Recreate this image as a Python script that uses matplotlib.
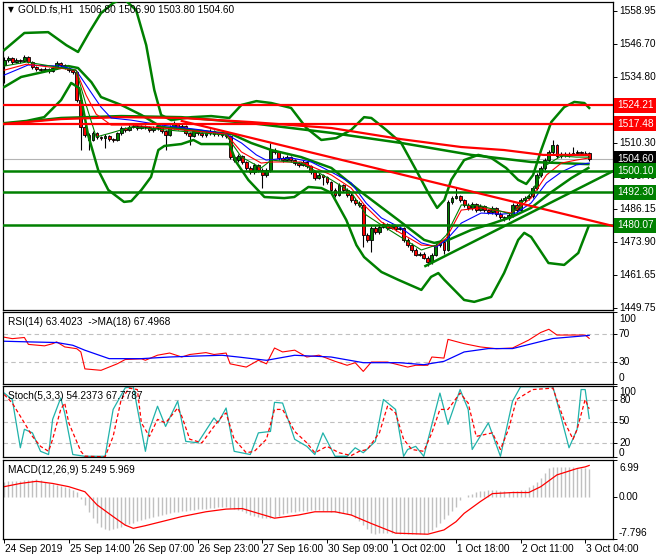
import matplotlib
matplotlib.use("Agg")
import matplotlib.pyplot as plt
import numpy as np

plt.rcParams['font.family'] = ['Liberation Sans', 'DejaVu Sans']

title = "GOLD.fs,H1  1506.80 1506.90 1503.80 1504.60"

# H1 candles, bar 0 = 24 Sep 2019
opens = [1539.0, 1540.9, 1541.7, 1540.2, 1540.9, 1540.6, 1542.0, 1540.2, 1538.3, 1537.6,
         1537.2, 1537.6, 1536.9, 1538.0, 1539.8, 1539.1, 1538.0, 1537.2, 1536.5, 1526.2,
         1516.3, 1513.3, 1511.5, 1514.1, 1512.6, 1512.2, 1513.0, 1511.8, 1511.5, 1514.1,
         1515.9, 1515.2, 1516.3, 1516.6, 1515.9, 1516.6, 1516.3, 1515.2, 1515.9, 1516.6,
         1514.8, 1513.3, 1516.3, 1517.4, 1515.9, 1516.6, 1514.1, 1513.0, 1514.8, 1514.1,
         1513.3, 1514.1, 1514.8, 1513.7, 1514.1, 1513.3, 1513.0, 1505.2, 1504.1, 1505.6,
         1503.4, 1501.2, 1499.7, 1502.3, 1500.4, 1498.6, 1500.4, 1507.8, 1507.1, 1504.9,
         1504.1, 1505.2, 1504.1, 1503.0, 1502.3, 1503.4, 1501.9, 1499.7, 1497.5, 1498.6,
         1497.9, 1496.0, 1493.1, 1491.2, 1494.9, 1493.1, 1491.2, 1489.4, 1488.3, 1487.6,
         1476.5, 1474.7, 1479.1, 1477.6, 1479.5, 1480.6, 1479.1, 1479.8, 1478.7, 1479.1,
         1474.7, 1472.8, 1471.0, 1469.2, 1469.5, 1468.1, 1466.6, 1469.2, 1472.8, 1473.9,
         1471.0, 1488.7, 1490.1, 1490.9, 1489.4, 1487.6, 1486.5, 1487.9, 1485.7, 1487.2,
         1485.7, 1485.0, 1486.5, 1484.2, 1483.1, 1482.8, 1483.9, 1487.6, 1485.7, 1489.4,
         1490.1, 1490.9, 1493.8, 1498.6, 1501.2, 1504.1, 1507.1, 1509.6, 1505.6, 1506.3,
         1506.0, 1506.3, 1506.7, 1507.1, 1506.7, 1506.8]
highs = [1541.9, 1542.3, 1542.2, 1541.5, 1541.4, 1542.8, 1542.3, 1540.6, 1538.8, 1538.1,
         1538.3, 1538.0, 1538.6, 1540.4, 1540.3, 1539.6, 1538.5, 1537.6, 1537.0, 1526.8,
         1516.9, 1514.0, 1514.8, 1514.6, 1513.1, 1513.8, 1513.5, 1512.4, 1514.6, 1516.5,
         1516.4, 1516.9, 1517.3, 1517.0, 1517.1, 1517.0, 1516.7, 1516.5, 1517.2, 1517.0,
         1515.1, 1517.0, 1518.6, 1517.9, 1517.2, 1516.9, 1514.6, 1515.4, 1515.3, 1514.6,
         1514.7, 1515.5, 1515.2, 1514.6, 1514.7, 1513.9, 1513.5, 1505.8, 1506.2, 1505.9,
         1503.9, 1501.8, 1502.9, 1502.8, 1501.0, 1501.0, 1510.4, 1508.6, 1507.6, 1505.6,
         1505.8, 1505.7, 1504.6, 1503.5, 1504.0, 1503.9, 1502.4, 1500.2, 1499.3, 1499.1,
         1498.4, 1496.5, 1493.7, 1495.5, 1495.4, 1493.7, 1491.8, 1490.0, 1489.0, 1487.9,
         1477.2, 1479.9, 1479.8, 1480.1, 1481.4, 1481.0, 1480.4, 1480.3, 1479.8, 1479.6,
         1475.3, 1473.4, 1471.6, 1470.3, 1470.1, 1468.6, 1469.8, 1473.4, 1474.6, 1474.5,
         1489.3, 1490.8, 1493.8, 1491.3, 1489.9, 1488.3, 1488.6, 1488.4, 1487.8, 1487.6,
         1486.2, 1487.1, 1487.0, 1484.8, 1483.6, 1484.6, 1488.2, 1488.3, 1490.0, 1490.9,
         1491.5, 1494.5, 1499.2, 1501.9, 1504.8, 1507.8, 1511.5, 1510.0, 1507.0, 1506.9,
         1506.9, 1508.9, 1507.7, 1507.6, 1507.5, 1506.9]
lows = [1532.5, 1540.3, 1539.6, 1539.8, 1540.0, 1540.1, 1539.7, 1537.8, 1537.0, 1536.6,
        1536.8, 1536.3, 1536.4, 1537.5, 1538.5, 1537.5, 1536.6, 1535.8, 1525.5, 1507.8,
        1512.6, 1507.8, 1511.0, 1512.0, 1511.6, 1508.5, 1511.2, 1510.8, 1511.0, 1513.5,
        1514.6, 1514.7, 1515.8, 1515.3, 1515.4, 1515.6, 1514.6, 1514.5, 1515.3, 1514.2,
        1507.8, 1512.8, 1515.7, 1515.3, 1515.4, 1513.5, 1509.6, 1512.5, 1513.4, 1512.6,
        1512.7, 1513.5, 1513.1, 1513.0, 1512.7, 1512.4, 1504.6, 1503.5, 1503.5, 1502.8,
        1500.6, 1498.9, 1499.1, 1499.8, 1493.8, 1498.0, 1499.8, 1506.4, 1504.3, 1503.5,
        1503.6, 1503.5, 1502.4, 1501.6, 1501.8, 1501.3, 1499.0, 1496.8, 1497.0, 1495.0,
        1495.4, 1492.4, 1490.6, 1490.8, 1492.5, 1490.6, 1488.8, 1487.7, 1486.9, 1472.1,
        1474.0, 1470.3, 1477.0, 1477.0, 1479.0, 1478.5, 1478.6, 1478.1, 1478.2, 1474.1,
        1472.2, 1470.4, 1468.6, 1468.6, 1467.5, 1465.1, 1466.0, 1468.6, 1472.2, 1469.5,
        1470.5, 1488.1, 1489.6, 1488.8, 1487.0, 1485.9, 1485.9, 1485.1, 1485.2, 1485.1,
        1484.4, 1484.4, 1483.6, 1482.5, 1481.8, 1482.2, 1483.3, 1485.1, 1485.1, 1488.8,
        1489.4, 1490.3, 1493.2, 1498.0, 1500.6, 1503.5, 1506.5, 1505.0, 1505.0, 1505.4,
        1505.4, 1505.8, 1506.2, 1505.8, 1505.9, 1503.8]
closes = [1540.9, 1541.7, 1540.2, 1540.9, 1540.6, 1542.0, 1540.2, 1538.3, 1537.6, 1537.2,
          1537.6, 1536.9, 1538.0, 1539.8, 1539.1, 1538.0, 1537.2, 1536.5, 1526.2, 1516.3,
          1513.3, 1511.5, 1514.1, 1512.6, 1512.2, 1513.0, 1511.8, 1511.5, 1514.1, 1515.9,
          1515.2, 1516.3, 1516.6, 1515.9, 1516.6, 1516.3, 1515.2, 1515.9, 1516.6, 1514.8,
          1513.3, 1516.3, 1517.4, 1515.9, 1516.6, 1514.1, 1513.0, 1514.8, 1514.1, 1513.3,
          1514.1, 1514.8, 1513.7, 1514.1, 1513.3, 1513.0, 1505.2, 1504.1, 1505.6, 1503.4,
          1501.2, 1499.7, 1502.3, 1500.4, 1498.6, 1500.4, 1507.8, 1507.1, 1504.9, 1504.1,
          1505.2, 1504.1, 1503.0, 1502.3, 1503.4, 1501.9, 1499.7, 1497.5, 1498.6, 1497.9,
          1496.0, 1493.1, 1491.2, 1494.9, 1493.1, 1491.2, 1489.4, 1488.3, 1487.6, 1476.5,
          1474.7, 1479.1, 1477.6, 1479.5, 1480.6, 1479.1, 1479.8, 1478.7, 1479.1, 1474.7,
          1472.8, 1471.0, 1469.2, 1469.5, 1468.1, 1466.6, 1469.2, 1472.8, 1473.9, 1471.0,
          1488.7, 1490.1, 1490.9, 1489.4, 1487.6, 1486.5, 1487.9, 1485.7, 1487.2, 1485.7,
          1485.0, 1486.5, 1484.2, 1483.1, 1482.8, 1483.9, 1487.6, 1485.7, 1489.4, 1490.1,
          1490.9, 1493.8, 1498.6, 1501.2, 1504.1, 1507.1, 1509.6, 1505.6, 1506.3, 1506.0,
          1506.3, 1506.7, 1507.1, 1506.7, 1506.8, 1504.6]

date_pos = [0, 16, 32, 48, 64, 80, 96, 112, 128, 144]
date_labels = ["24 Sep 2019", "25 Sep 14:00", "26 Sep 07:00", "26 Sep 23:00",
               "27 Sep 16:00", "30 Sep 09:00", "1 Oct 02:00", "1 Oct 18:00",
               "2 Oct 11:00", "3 Oct 04:00"]
price_ticks = [1558.95, 1546.70, 1534.80, 1522.55, 1510.30,
               1498.40, 1486.15, 1473.90, 1461.65, 1449.75]

last_price = 1504.60
red_levels = [1524.21, 1517.48]
green_levels = [1500.10, 1492.30, 1480.07]
red_trend_x = [44, 151.0]
red_trend_y = [1518.5, 1479.8]
green_trend_x = [104.4, 151.0]
green_trend_y = [1465.1, 1500.1]

# bollinger bands
bb_up_x = [0, 5.0, 10.9, 15.4, 18.3, 21.1, 24.0, 27.0, 29.5, 32.7, 35.2, 37.2, 38.9, 41.4,
           46.4, 51.3, 55.8, 58.8, 62.5, 66.2, 71.1, 74.9, 78.6, 82.3, 86.0, 89.2, 91.0,
           94.7, 98.4, 102.1, 105.4, 107.3, 109.1, 110.8, 114.0, 117.5, 120.7, 124.4,
           127.4, 129.4, 131.1, 133.1, 135.6, 138.8, 141.3, 143.8, 145.0]
bb_up_y = [1544.6, 1550.9, 1551.2, 1546.4, 1543.9, 1551.2, 1558.2, 1561.9, 1563.7, 1559.3,
           1546.4, 1529.9, 1520.7, 1518.8, 1519.9, 1520.3, 1519.6, 1524.4, 1525.8, 1525.1,
           1523.3, 1515.9, 1511.5, 1512.2, 1515.2, 1519.9, 1519.6, 1515.2, 1510.4, 1500.4,
           1491.2, 1486.5, 1489.4, 1496.8, 1504.1, 1506.0, 1504.9, 1501.2, 1496.8, 1495.3,
           1498.6, 1507.8, 1518.1, 1523.6, 1525.5, 1525.1, 1523.3]
bb_mid_x = [0, 4.2, 11.7, 15.9, 18.3, 21.6, 24.0, 29.0, 34.0, 38.9, 48.8, 56.3, 61.2, 66.2,
            73.6, 81.1, 88.5, 97.7, 104.1, 106.6, 110.1, 115.8, 120.7, 125.7, 130.6, 135.6,
            140.6, 144.8]
bb_mid_y = [1531.0, 1534.7, 1537.2, 1538.7, 1538.0, 1532.8, 1527.3, 1524.4, 1520.7, 1516.3,
            1514.8, 1513.7, 1510.4, 1507.8, 1505.2, 1501.2, 1492.3, 1482.0, 1474.7, 1473.6,
            1474.7, 1478.4, 1480.6, 1483.1, 1486.5, 1492.3, 1497.5, 1501.2]
bb_lo_x = [0, 5.5, 9.9, 14.1, 16.6, 18.6, 20.8, 23.3, 25.8, 29.7, 31.5, 34.0, 36.4, 38.2,
           39.7, 43.9, 46.9, 48.8, 55.8, 57.5, 60.5, 64.5, 69.4, 71.9, 75.4, 78.6, 81.1,
           84.8, 87.3, 89.2, 93.5, 97.7, 103.4, 105.8, 107.6, 109.1, 114.0, 116.5, 120.7,
           123.9, 127.4, 128.9, 130.6, 134.9, 138.8, 142.3, 144.8]
bb_lo_y = [1517.7, 1518.5, 1519.9, 1526.2, 1532.5, 1530.6, 1513.3, 1500.4, 1493.1, 1488.7,
           1489.0, 1493.1, 1497.9, 1507.8, 1509.3, 1510.0, 1511.5, 1510.0, 1510.0, 1503.4,
           1496.8, 1490.5, 1490.1, 1490.5, 1494.2, 1493.8, 1492.0, 1482.0, 1472.8, 1468.4,
           1462.9, 1460.0, 1456.3, 1461.1, 1462.5, 1460.0, 1452.6, 1451.9, 1453.7, 1462.5,
           1474.7, 1477.3, 1475.8, 1466.2, 1465.5, 1469.9, 1479.5]

# slow moving averages
slow_x = [0, 14.1, 29.0, 43.9, 61.2, 81.1, 98.4, 115.8, 130.6, 144.8]
slow_green_y = [1517.4, 1519.6, 1520.3, 1519.9, 1517.7, 1514.1, 1510.4, 1506.0, 1503.4, 1502.6]
slow_red_x = [0, 14.1, 29.0, 43.9, 61.2, 81.1, 98.4, 113.3, 123.9, 133.6, 144.8]
slow_red_y = [1517.4, 1519.2, 1519.9, 1519.6, 1518.1, 1515.9, 1511.8, 1508.9, 1507.8, 1506.0, 1506.0]

# fast moving averages
ma_blue_x = [0, 4.2, 5.9, 14.1, 17.8, 20.3, 24.0, 26.5, 31.5, 38.9, 48.8, 55.0, 58.8, 62.5,
             64.9, 71.1, 76.1, 81.1, 86.0, 89.7, 93.5, 98.4, 103.4, 107.1, 109.6, 113.3,
             118.2, 123.2, 126.9, 130.6, 134.4, 138.1, 141.8, 145.0]
ma_blue_y = [1535.4, 1538.0, 1539.1, 1538.7, 1537.2, 1531.7, 1523.6, 1519.6, 1518.8, 1517.0,
             1515.2, 1513.7, 1510.4, 1506.0, 1504.1, 1504.9, 1503.4, 1499.7, 1495.7, 1488.3,
             1482.8, 1479.1, 1473.6, 1472.1, 1474.7, 1480.9, 1484.6, 1484.2, 1484.6, 1488.3,
             1495.7, 1499.7, 1502.3, 1503.0]
ma_fast_x = [0, 5.5, 17.8, 20.3, 22.8, 26.5, 31.5, 55.0, 58.8, 63.7, 66.2, 73.6, 81.1, 86.0,
             89.7, 93.5, 103.4, 107.1, 109.6, 113.3, 118.2, 125.7, 130.6, 134.4, 138.1,
             141.8, 145.0]
ma_red_y = [1537.2, 1539.4, 1537.2, 1528.0, 1521.0, 1517.0, 1517.0, 1513.7, 1507.1, 1503.0,
            1503.4, 1503.4, 1498.6, 1493.8, 1486.8, 1481.3, 1472.8, 1472.5, 1475.4, 1485.7,
            1486.5, 1484.6, 1490.1, 1498.6, 1503.0, 1504.1, 1504.9]
ma_green_y = [1538.7, 1540.2, 1537.2, 1524.4, 1512.6, 1514.1, 1516.3, 1513.3, 1505.2, 1501.2,
              1504.1, 1503.0, 1496.8, 1492.3, 1483.9, 1480.2, 1471.0, 1472.8, 1476.5, 1487.6,
              1487.2, 1484.2, 1492.0, 1502.3, 1505.6, 1505.2, 1505.2]

# RSI(14) and its MA(18)
rsi_x = [0, 2, 5, 6, 10, 12, 13, 15, 18, 19, 20, 24, 28, 30, 34, 35, 38, 41, 44, 46,
         50, 52, 55, 56, 60, 63, 65, 67, 69, 72, 75, 78, 82, 85, 87, 89, 91, 95, 100, 102,
         105, 106, 109, 110, 114, 118, 122, 126, 130, 133, 135, 137, 144, 145]
rsi_y = [65, 63, 64.6, 55, 53, 56, 58.5, 51.5, 49, 44.5, 21, 19, 28, 34, 35, 33, 40, 43, 37.5, 41,
         43.6, 41, 43, 28, 23.5, 33, 28, 50, 44.5, 47, 37.5, 40, 31.5, 26, 29.6, 17.5, 30.5, 30.5, 23.5, 26,
         26, 37.5, 36, 62, 56, 51.5, 49, 50, 61, 71.6, 76, 68, 68, 63.4]
rsi_ma_x = [0, 6, 13, 17, 20, 26, 34, 41, 48, 54, 58, 65, 72, 81, 89, 98, 104, 109, 114,
            120, 126, 131, 136, 145]
rsi_ma_y = [59.4, 58.5, 57.6, 53.8, 46.9, 35.2, 35.2, 37.5, 38.9, 39.9, 37.5, 32.9, 39.9, 37.5,
            29.6, 29.6, 26.8, 31.5, 44.5, 49.2, 49.2, 56.2, 63.2, 67.5]

# Stochastic(5,3,3)
st_x = [0, 2, 4, 5, 7, 9, 11, 12, 14, 15, 17, 20, 25, 27, 30, 32, 35, 36, 38, 40,
        43, 45, 48, 52, 53, 55, 57, 61, 63, 66, 67, 69, 72, 75, 77, 79, 82, 85, 87, 89,
        92, 94, 97, 99, 100, 102, 104, 108, 110, 113, 115, 116, 120, 123, 126, 128, 136, 138,
        140, 142, 143, 144, 145]
st_y = [90, 81, 13, 39, 34, 8, 3.5, 53, 83, 62, 3.5, 1, 1, 67, 97.5, 99, 8, 39, 71.5, 43,
        78.6, 22, 20, 55, 48, 69, 8, 3.5, 34, 36, 77, 76, 25, 15, 3.5, 34, 1, 1, 13, 6,
        22, 81, 67, 1, 10.6, 15, 1, 90, 46, 95, 67, 10.6, 48, 1, 78.6, 99, 99, 57,
        13, 39, 95, 95, 54.2]
sg_x = [0, 2, 5, 7, 9, 11, 12, 14, 15, 16, 19, 20, 25, 27, 29, 31, 33, 34, 36, 38,
        40, 43, 44, 46, 49, 52, 54, 55, 57, 60, 62, 65, 67, 69, 72, 75, 77, 80, 83, 86,
        88, 90, 93, 95, 97, 99, 101, 104, 106, 108, 110, 113, 115, 117, 121, 123, 125, 127,
        131, 136, 139, 141, 142, 144, 145]
sg_y = [88, 76, 48, 29, 15, 8, 25, 67, 76, 48, 8, 1.2, 0.2, 29, 81, 97, 95, 48, 29, 53,
        48, 69, 57.5, 25, 20, 43, 57.5, 62, 25, 6, 8, 25, 67, 67, 36, 20, 6, 15, 6, 2,
        8, 10.6, 34, 71.5, 62, 25, 10.6, 8, 34, 67, 67, 90, 76, 29, 34, 10.6, 39, 81,
        95, 97, 48, 25, 39, 81, 67.8]

# MACD(12,26,9): main as histogram (one per bar), signal as line
macd_hist = [2.9, 3.0, 3.0, 3.1, 3.1, 3.2, 3.2, 3.3, 3.4, 3.2,
             2.9, 2.7, 2.5, 2.3, 2.1, 1.9, 1.7, 1.4, 1.0, -0.4,
             -1.4, -2.7, -3.9, -4.8, -5.5, -5.9, -6.1, -6.0, -5.8, -5.5,
             -5.2, -5.0, -4.8, -4.5, -4.3, -4.1, -3.9, -3.7, -3.5, -3.3,
             -3.2, -3.0, -2.8, -2.7, -2.6, -2.5, -2.4, -2.3, -2.2, -2.1,
             -2.1, -2.0, -2.0, -1.9, -1.9, -1.9, -2.0, -2.2, -2.3, -2.6,
             -3.0, -3.3, -3.5, -3.7, -3.9, -3.9, -3.8, -3.6, -3.4, -3.2,
             -3.0, -2.8, -2.7, -2.6, -2.5, -2.5, -2.4, -2.4, -2.4, -2.5,
             -2.6, -2.7, -2.7, -2.9, -3.0, -3.2, -3.3, -3.8, -4.5, -5.2,
             -6.0, -6.7, -6.8, -6.7, -6.7, -6.6, -6.7, -6.7, -6.8, -6.8,
             -6.9, -6.9, -6.9, -6.9, -6.8, -6.7, -6.2, -5.5, -4.8, -4.0,
             -3.3, -2.5, -1.8, -0.5, 0.1, 0.4, 0.7, 1.0, 1.1, 1.2,
             1.3, 1.4, 1.3, 1.2, 1.1, 1.0, 1.1, 1.2, 1.3, 1.4,
             1.9, 2.4, 2.9, 3.7, 4.6, 5.4, 5.6, 5.7, 5.7, 5.7,
             5.7, 5.6, 5.5, 5.5, 5.4, 5.25]
macd_sig_x = [0, 4, 8, 12, 16, 20, 23, 27, 30, 32, 35, 39, 44, 50, 55, 59, 63, 67, 73, 77,
              82, 86, 91, 97, 105, 109, 112, 114, 118, 121, 126, 130, 133, 137, 142, 144, 145]
macd_sig_y = [2.0, 2.6, 3.0, 2.6, 2.0, 1.05, -1.4, -3.6, -5.2, -5.8, -5.3, -4.55, -3.6, -2.7,
              -2.2, -2.1, -3.0, -3.9, -3.3, -2.7, -2.7, -3.3, -4.9, -6.7, -6.9, -6.1, -4.55,
              -3.0, -0.8, 0.7, 0.9, 0.9, 2.0, 4.2, 5.4, 5.7, 5.97]

W, H = 660, 560
GREEN = '#008000'
RED = '#FF0000'
FS = 7.3

fig = plt.figure(figsize=(W / 100, H / 100), dpi=100)


def make_panel(top, bottom, ylim):
    ax = fig.add_axes([3 / W, 1 - bottom / H, 610 / W, (bottom - top) / H])
    ax.set_xlim(-0.3, 150.9)
    ax.set_ylim(*ylim)
    ax.set_xticks([])
    for s in ax.spines.values():
        s.set_linewidth(0.9)
    ax.yaxis.tick_right()
    ax.tick_params(axis='y', length=3, width=0.7, labelright=False)
    return ax


def right_label(ax, val, txt, dy=0):
    ax.annotate(txt, xy=(1, val), xycoords=('axes fraction', 'data'),
                xytext=(6, dy), textcoords='offset pixels', va='center', ha='left',
                fontsize=FS, annotation_clip=False)


def price_box(ax, val, fc):
    ax.annotate(f"{val:.2f}", xy=(1, val), xycoords=('axes fraction', 'data'),
                xytext=(4, 0), textcoords='offset pixels', va='center', ha='left',
                fontsize=FS, color='white', annotation_clip=False, zorder=10,
                bbox=dict(boxstyle='square,pad=0.25', fc=fc, ec='none'))


# ---- main price panel ----
ax = make_panel(2, 310, (1448.9, 1562.3))
ax.set_yticks(price_ticks)
for p in price_ticks:
    right_label(ax, p, f"{p:.2f}")

ax.axhline(last_price, color='#B4B4B4', lw=0.8, zorder=1)

idx = np.arange(len(closes))
o = np.array(opens)
c = np.array(closes)
up = c >= o
ax.vlines(idx, lows, highs, color='black', lw=0.8, zorder=2)
ax.bar(idx, np.maximum(np.abs(c - o), 0.12), bottom=np.minimum(o, c), width=0.7,
       color=np.where(up, GREEN, RED), edgecolor='black', linewidth=0.6, zorder=2.1)

ax.plot(bb_up_x, bb_up_y, color=GREEN, lw=1.8, zorder=3)
ax.plot(bb_mid_x, bb_mid_y, color=GREEN, lw=1.8, zorder=3)
ax.plot(bb_lo_x, bb_lo_y, color=GREEN, lw=1.8, zorder=3)
ax.plot(slow_x, slow_green_y, color=GREEN, lw=1.8, zorder=3)
ax.plot(slow_red_x, slow_red_y, color=RED, lw=1.6, zorder=3)

ax.plot(ma_blue_x, ma_blue_y, color='#0000FF', lw=0.8, zorder=4)
ax.plot(ma_fast_x, ma_red_y, color=RED, lw=0.8, zorder=4)
ax.plot(ma_fast_x, ma_green_y, color=GREEN, lw=0.8, zorder=4)

for lv in red_levels:
    ax.axhline(lv, color=RED, lw=1.6, zorder=5)
for lv in green_levels:
    ax.axhline(lv, color=GREEN, lw=1.8, zorder=5)
ax.plot(red_trend_x, red_trend_y, color=RED, lw=1.6, zorder=5)
ax.plot(green_trend_x, green_trend_y, color=GREEN, lw=1.8, zorder=5)

for lv in red_levels:
    price_box(ax, lv, RED)
price_box(ax, last_price, 'black')
for lv in green_levels:
    price_box(ax, lv, GREEN)

fig.text(8 / W, 1 - 10 / H, "\u25bc", fontsize=5.5, va='center', family='DejaVu Sans')
fig.text(18 / W, 1 - 10 / H, title, fontsize=FS, va='center')

# ---- RSI ----
ax_rsi = make_panel(312, 384, (0, 100))
ax_rsi.set_yticks([100, 70, 30, 0])
for lv in (70, 30):
    ax_rsi.axhline(lv, color='#C0C0C0', lw=0.8, ls=(0, (4, 3)))
ax_rsi.plot(rsi_x, rsi_y, color=RED, lw=0.8)
ax_rsi.plot(rsi_ma_x, rsi_ma_y, color='#0000FF', lw=0.9)
right_label(ax_rsi, 100, "100", -7)
right_label(ax_rsi, 70, "70")
right_label(ax_rsi, 30, "30")
right_label(ax_rsi, 0, "0", 6)
fig.text(8 / W, 1 - 322 / H, "RSI(14) 63.4023  ->MA(18) 67.4968", fontsize=FS, va='center')

# ---- Stochastic ----
ax_st = make_panel(386, 457, (0, 100))
ax_st.set_yticks([100, 80, 50, 20, 0])
for lv in (80, 50, 20):
    ax_st.axhline(lv, color='#C0C0C0', lw=0.8, ls=(0, (4, 3)))
ax_st.plot(st_x, st_y, color='#20B2AA', lw=0.9)
ax_st.plot(sg_x, sg_y, color=RED, lw=0.9, ls=(0, (3, 2)))
right_label(ax_st, 100, "100", -6)
right_label(ax_st, 80, "80")
right_label(ax_st, 50, "50")
right_label(ax_st, 20, "20")
right_label(ax_st, 0, "0", 4)
fig.text(8 / W, 1 - 396 / H, "Stoch(5,3,3) 54.2373 67.7787", fontsize=FS, va='center')

# ---- MACD ----
ax_m = make_panel(460, 539, (-7.796, 6.99))
ax_m.set_yticks([6.99, 0.0, -7.796])
ax_m.vlines(idx, 0, macd_hist, color='#C0C0C0', lw=1.0)
ax_m.plot(macd_sig_x, macd_sig_y, color=RED, lw=0.9)
right_label(ax_m, 6.99, "6.99", -8)
right_label(ax_m, 0.0, "0.00")
right_label(ax_m, -7.796, "-7.796", 6)
fig.text(8 / W, 1 - 470 / H, "MACD(12,26,9) 5.249 5.969", fontsize=FS, va='center')

ax_m.set_xticks(date_pos)
ax_m.tick_params(axis='x', length=3, width=0.7, labelbottom=False)
for pos, lab in zip(date_pos, date_labels):
    ax_m.annotate(lab, xy=(pos, 0), xycoords=('data', 'axes fraction'),
                  xytext=(1, -10), textcoords='offset pixels', ha='left', va='center',
                  fontsize=FS, annotation_clip=False)

fig.savefig("out.png", dpi=100)
